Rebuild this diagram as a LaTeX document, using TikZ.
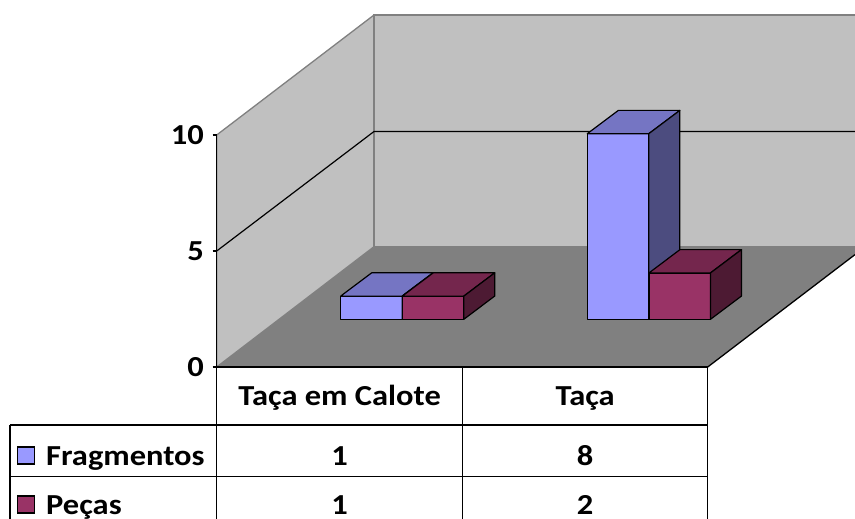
\documentclass[tikz,border=0pt]{standalone}
\usepackage{fontspec}
\setmainfont{Carlito}[FakeStretch=1.12]
\usetikzlibrary{positioning}

\definecolor{wallgray}{HTML}{C0C0C0}
\definecolor{floorgray}{HTML}{808080}
\definecolor{edgegray}{HTML}{808080}
\definecolor{frag}{HTML}{9999FF}
\definecolor{fragtop}{HTML}{7575C3}
\definecolor{fragside}{HTML}{4C4C7F}
\definecolor{peca}{HTML}{993366}
\definecolor{pecatop}{HTML}{74264D}
\definecolor{pecaside}{HTML}{4D1A33}

\begin{document}
\begin{tikzpicture}[x=1pt, y=-1pt,
    wall style/.style={fill=wallgray, draw=edgegray, line width=1.3pt, line join=round},
    grid style/.style={draw=black, line width=1.2pt},
    table style/.style={draw=black, line width=1.5pt},
    bar style/.style={draw=black, line width=1.2pt, line join=round},
    label style/.style={font=\fontsize{29}{34}\selectfont\bfseries, inner sep=0pt},
    key style/.style={draw=black, line width=1.2pt, minimum size=17pt, inner sep=0pt}
]
    \useasboundingbox (0,0) rectangle (855,519);

    % walls and floor
    \fill[floorgray] (216.7,367) -- (707.7,367) -- (855,254.6) -- (855,246.7) -- (374,246.7) -- cycle;
    \draw[wall style] (216.7,135) -- (374,15) -- (374,246.7) -- (216.7,367) -- cycle;
    \fill[wallgray] (374,15) rectangle (855,246.7);
    \draw[edgegray, line width=1.3pt] (855,15) -- (374,15) -- (374,246.7) -- (855,246.7);
    \draw[grid style] (216.7,251) -- (374,131.5) -- (855,131.5);
    \draw[black, line width=1.3pt] (707.7,367) -- (855,254.6);

    % bars
    \foreach \x/\h/\col in {340.7/1/frag, 402.3/1/peca, 587.3/8/frag, 649/2/peca} {
        \pgfmathsetmacro{\t}{319.3-23.2*\h}
        \draw[bar style, fill=\col] (\x,319.3) rectangle (\x+61.5,\t);
        \draw[bar style, fill=\col top] (\x,\t) -- ++(61.5,0) -- ++(31,-23.3) -- ++(-61.5,0) -- cycle;
        \draw[bar style, fill=\col side] (\x+61.5,319.3) -- (\x+61.5,\t) -- ++(31,-23.3) -- ++(0,{23.2*\h}) -- cycle;
    }

    % value axis
    \draw[black, line width=1.3pt] (216.7,135) -- (216.7,367);
    \foreach \v/\y in {10/135, 5/251, 0/367} {
        \draw[black, line width=1.2pt] (212.5,\y) -- (216.7,\y);
        \node[label style, anchor=east] (val\v) at (204,\y) {\v};
    }

    % data table
    \draw[table style] (216.7,367) -- (707.7,367);
    \draw[table style] (10,425) -- (707.7,425);
    \draw[table style] (10,476.7) -- (707.7,476.7);
    \draw[table style] (10,425) -- (10,519);
    \draw[table style] (216.7,367) -- (216.7,519);
    \draw[table style] (462.7,367) -- (462.7,519);
    \draw[table style] (707.7,367) -- (707.7,519);

    \node[label style, anchor=base] (catA) at (339.7,405) {Taça em Calote};
    \node[label style, anchor=base] (catB) at (585.2,405) {Taça};

    \node[key style, fill=frag] (keyfrag) at (26,455.5) {};
    \node[label style, anchor=base west] (frag) at (46,465) {Fragmentos};
    \node[label style, anchor=base] (fragA) at (339.7,465) {1};
    \node[label style, anchor=base] (fragB) at (585.2,465) {8};

    \node[key style, fill=peca] (keypeca) at (26,504.5) {};
    \node[label style, anchor=base west] (peca) at (46,514) {Peças};
    \node[label style, anchor=base] (pecaA) at (339.7,514) {1};
    \node[label style, anchor=base] (pecaB) at (585.2,514) {2};
\end{tikzpicture}
\end{document}
